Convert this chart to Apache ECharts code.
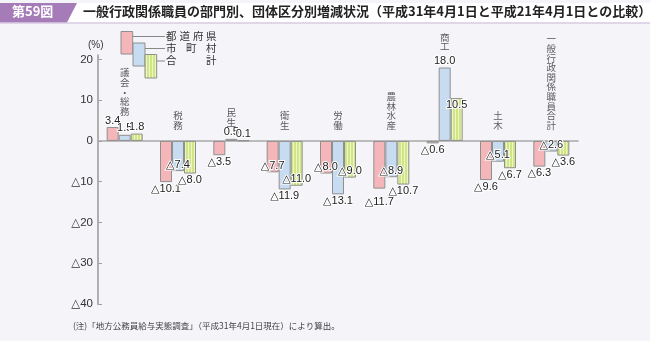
<!DOCTYPE html>
<html>
<head>
<meta charset="utf-8">
<script src="https://cdn.jsdelivr.net/npm/echarts@6/dist/echarts.min.js"></script>
<style>
  html, body { margin: 0; padding: 0; background: #f5f5f9; }
  #chart { width: 650px; height: 341px; }
</style>
</head>
<body>
<div id="chart"></div>
<script>
// Staff change rate by department, H21.4.1 -> H31.4.1 (%)
const categories = ['議会・総務', '税務', '民生', '衛生', '労働', '農林水産', '商工', '土木', '一般行政関係職員合計'];
const prefValues  = [3.4, -10.1, -3.5, -7.7, -8.0, -11.7, -0.6, -9.6, -6.3];   // 都道府県
const muniValues  = [1.5, -7.4, 0.5, -11.9, -13.1, -8.9, 18.0, -5.1, -2.6];    // 市町村
const totalValues = [1.8, -8.0, 0.1, -11.0, -9.0, -10.7, 10.5, -6.7, -3.6];    // 合計
const yTicks = [-40, -30, -20, -10, 0, 10, 20];

// value labels drawn inside the bar end instead of beyond it
const prefInside  = [3, 4];
const muniInside  = [1, 5, 7, 8];
const totalInside = [3, 4, 6];
// labels pushed a little further from the bar end (index -> px)
const prefPush = { 5: 7 };
// pixel gap between each group's top and its vertical name
const nameGap = [11, 11, 12, 11, 11, 11, 16, 11, 11];

const NUM_FONT = "'Liberation Sans Narrow', 'Arial Narrow', 'Liberation Sans', 'DejaVu Sans', sans-serif";
const JP_FONT = "'Noto Sans CJK JP', 'Noto Sans', sans-serif";

const PINK = '#f5b6b9';
const BLUE = '#c7dbf1';
const EDGE = '#8f8f8f';

// vertical-stripe fill for the 合計 bars
function stripeCanvas() {
  const c = document.createElement('canvas');
  c.width = 3; c.height = 4;
  const g = c.getContext('2d');
  g.fillStyle = '#d0e585';
  g.fillRect(0, 0, 3, 4);
  g.fillStyle = '#eef6c6';
  g.fillRect(2, 0, 1, 4);
  return c;
}
const STRIPE = { image: stripeCanvas(), repeat: 'repeat' };

function fmt(v) {
  return v < 0 ? '△' + Math.abs(v).toFixed(1) : v.toFixed(1);
}

function barData(values, inside, push) {
  return values.map((v, i) => {
    let pos;
    if (inside.indexOf(i) >= 0) pos = v < 0 ? 'insideBottom' : 'insideTop';
    else pos = v < 0 ? 'bottom' : 'top';
    const label = { position: pos };
    if (push && push[i]) label.distance = 1 + push[i];
    return { value: v, label: label };
  });
}

const labelStyle = {
  show: true,
  formatter: p => fmt(p.value),
  fontFamily: NUM_FONT,
  fontSize: 11,
  color: '#222',
  textBorderColor: '#fff',
  textBorderWidth: 2,
  distance: 1
};

function barSeries(name, values, inside, fill, push) {
  return {
    name: name,
    type: 'bar',
    barWidth: 12,
    barGap: '0%',
    data: barData(values, inside, push),
    itemStyle: { color: fill, borderColor: EDGE, borderWidth: 1 },
    label: labelStyle,
    silent: true,
    z: 2
  };
}

// anchor of each group's name: the top of its tallest positive bar (or zero)
const nameAnchor = categories.map((c, i) =>
  Math.max(0, prefValues[i], muniValues[i], totalValues[i]));

const chart = echarts.init(document.getElementById('chart'), null, { renderer: 'canvas', width: 650, height: 341 });

const legendText = (ch, x, y) => ({
  type: 'text', left: x, top: y - 6,
  style: { text: ch, fontSize: 10.5, fontFamily: JP_FONT, fill: '#333' }
});

chart.setOption({
  backgroundColor: '#f5f5f9',
  animation: false,
  grid: { left: 98, right: 72, top: 55.3, bottom: 37, containLabel: false },
  xAxis: {
    type: 'category',
    data: categories,
    axisLine: { onZero: true, lineStyle: { color: '#a9a9a9', width: 1.5 } },
    axisTick: { show: false },
    axisLabel: { show: false },
    splitLine: { show: false }
  },
  yAxis: {
    type: 'value',
    min: -40,
    max: 21,
    interval: 10,
    axisLine: { show: true, lineStyle: { color: '#b0b0b0', width: 2 } },
    axisTick: { show: true, inside: true, length: 4, customValues: yTicks, lineStyle: { color: '#a0a0a0', width: 1 } },
    axisLabel: {
      customValues: yTicks,
      formatter: v => (v < 0 ? '△' + (-v) : String(v)),
      fontFamily: NUM_FONT,
      fontSize: 11.5,
      color: '#333',
      margin: 5
    },
    splitLine: { show: false }
  },
  series: [
    barSeries('都道府県', prefValues, prefInside, PINK, prefPush),
    barSeries('市町村', muniValues, muniInside, BLUE),
    barSeries('合計', totalValues, totalInside, STRIPE),
    {
      type: 'scatter',
      symbolSize: 0,
      silent: true,
      data: nameAnchor.map((v, i) => ({ value: v, label: { distance: nameGap[i] } })),
      label: {
        show: true,
        position: 'top',
        formatter: p => categories[p.dataIndex].split('').join('\n'),
        fontFamily: JP_FONT,
        fontSize: 9.5,
        lineHeight: 9.6,
        color: '#333',
        align: 'center'
      },
      z: 3
    }
  ],
  graphic: [
    // header strip
    { type: 'rect', shape: { x: 60, y: 3, width: 590, height: 19.5 }, style: { fill: '#ffffff' } },
    { type: 'polygon', shape: { points: [[0, 3], [77, 3], [67, 22.5], [0, 22.5]] }, style: { fill: '#a67cb8' } },
    { type: 'line', shape: { x1: 0, y1: 23, x2: 650, y2: 23 }, style: { stroke: '#cbb6d8', lineWidth: 1.2 } },
    { type: 'text', left: 12, top: 5, style: { text: '第59図', fontSize: 13, fontWeight: 'bold', fontFamily: JP_FONT, fill: '#ffffff' } },
    { type: 'text', left: 83, top: 4.5, style: { text: '一般行政関係職員の部門別、団体区分別増減状況（平成31年4月1日と平成21年4月1日との比較）', fontSize: 13, fontWeight: 'bold', fontFamily: JP_FONT, fill: '#222' } },
    // unit
    { type: 'text', left: 88, top: 40, style: { text: '(%)', fontSize: 10, fontFamily: NUM_FONT, fill: '#333' } },
    // legend keys
    { type: 'rect', shape: { x: 121, y: 31.5, width: 11.7, height: 22.5 }, style: { fill: PINK, stroke: EDGE, lineWidth: 1 } },
    { type: 'rect', shape: { x: 133, y: 43, width: 12, height: 23 }, style: { fill: BLUE, stroke: EDGE, lineWidth: 1 } },
    { type: 'rect', shape: { x: 145, y: 54.5, width: 11.7, height: 23.5 }, style: { fill: STRIPE, stroke: EDGE, lineWidth: 1 } },
    { type: 'line', shape: { x1: 132.7, y1: 36.5, x2: 165, y2: 36.5 }, style: { stroke: '#888', lineWidth: 1 } },
    { type: 'line', shape: { x1: 145, y1: 48.5, x2: 165, y2: 48.5 }, style: { stroke: '#888', lineWidth: 1 } },
    { type: 'line', shape: { x1: 156.7, y1: 61, x2: 165, y2: 61 }, style: { stroke: '#888', lineWidth: 1 } },
    legendText('都', 166, 36.5), legendText('道', 179.5, 36.5), legendText('府', 193, 36.5), legendText('県', 206, 36.5),
    legendText('市', 166, 48.5), legendText('町', 186, 48.5), legendText('村', 206, 48.5),
    legendText('合', 166, 61), legendText('計', 206, 61),
    // note
    { type: 'text', left: 73, top: 322, style: { text: '(注)「地方公務員給与実態調査」（平成31年4月1日現在）により算出。', fontSize: 8.5, fontFamily: JP_FONT, fill: '#444' } }
  ]
});
</script>
</body>
</html>
